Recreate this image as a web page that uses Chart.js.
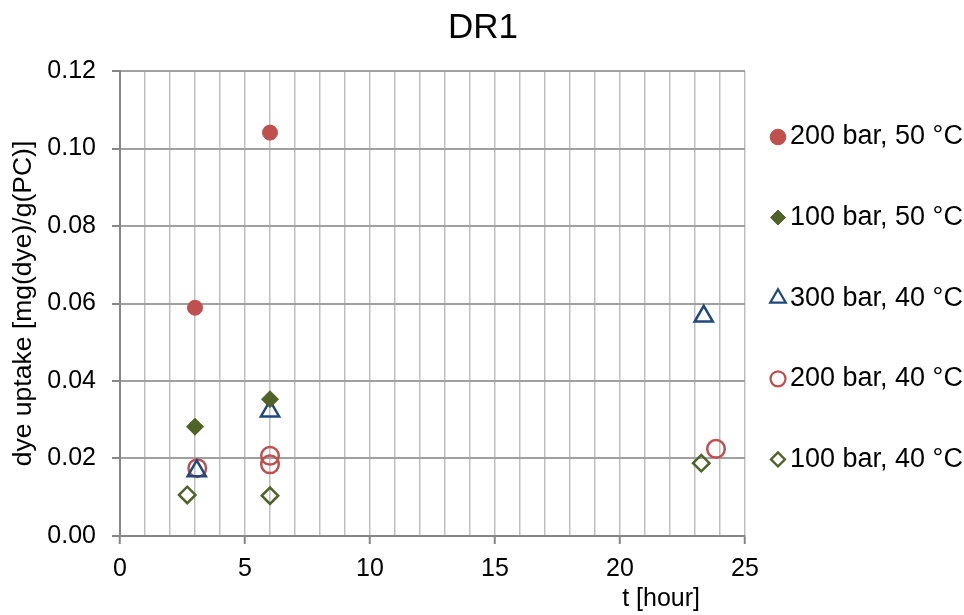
<!DOCTYPE html>
<html>
<head>
<meta charset="utf-8">
<title>DR1</title>
<script src="https://cdn.jsdelivr.net/npm/chart.js@4/dist/chart.umd.min.js"></script>
<style>
    html, body { margin: 0; padding: 0; background: #fff; }
    #wrap { width: 964px; height: 615px; }
</style>
</head>
<body>
<div id="wrap"><canvas id="chart" width="964" height="615"></canvas></div>
<script>
// series: dye uptake vs. time for each pressure / temperature
const seriesNames = ['200 bar, 50 °C', '100 bar, 50 °C', '300 bar, 40 °C', '200 bar, 40 °C', '100 bar, 40 °C'];

const t200b50 = [3.0, 6.0];
const u200b50 = [0.0589, 0.1041];

const t100b50 = [3.0, 6.0];
const u100b50 = [0.0282, 0.0353];

const t300b40 = [3.07, 6.0, 23.35];
const u300b40 = [0.0168, 0.0322, 0.0567];

const t200b40 = [3.09, 6.0, 6.0, 23.84];
const u200b40 = [0.0175, 0.0207, 0.0185, 0.0225];

const t100b40 = [2.69, 6.0, 23.25];
const u100b40 = [0.0106, 0.0104, 0.0188];

const xTicks = [0, 5, 10, 15, 20, 25];
const yTicks = [0.00, 0.02, 0.04, 0.06, 0.08, 0.10, 0.12];

const red = '#C0504D';
const green = '#4F6228';
const blue = '#1F497D';
const font = "'Liberation Sans', Arial, sans-serif";

function points(xs, ys) {
    return xs.map((x, i) => ({ x: x, y: ys[i] }));
}

const datasets = [
    { label: seriesNames[0], data: points(t200b50, u200b50), pointStyle: 'circle',
      pointRadius: 7.5, pointBorderWidth: 1, borderColor: red, backgroundColor: red },
    { label: seriesNames[1], data: points(t100b50, u100b50), pointStyle: 'rectRot',
      pointRadius: 8.5, pointBorderWidth: 1, borderColor: green, backgroundColor: green },
    { label: seriesNames[2], data: points(t300b40, u300b40), pointStyle: 'triangle',
      pointRadius: 10.5, pointBorderWidth: 2.5, borderColor: blue, backgroundColor: 'rgba(0,0,0,0)' },
    { label: seriesNames[3], data: points(t200b40, u200b40), pointStyle: 'circle',
      pointRadius: 8.8, pointBorderWidth: 2.5, borderColor: red, backgroundColor: 'rgba(0,0,0,0)' },
    { label: seriesNames[4], data: points(t100b40, u100b40), pointStyle: 'rectRot',
      pointRadius: 8.2, pointBorderWidth: 2.5, borderColor: green, backgroundColor: 'rgba(0,0,0,0)' },
];
datasets.forEach(ds => { ds.pointHoverRadius = ds.pointRadius; ds.showLine = false; });

// legend markers are a bit smaller than the plotted ones
const legendRadius = [7.8, 7.5, 9, 7.5, 7];
const legendBorder = [1, 1, 2.2, 2.2, 2.2];

const decorations = {
    id: 'decorations',
    afterDraw(chart) {
        const ctx = chart.ctx;
        ctx.save();

        // title, centred over plot + legend block
        ctx.fillStyle = '#000';
        ctx.font = '35px ' + font;
        ctx.textAlign = 'center';
        ctx.textBaseline = 'middle';
        ctx.fillText('DR1', 483, 28);

        chart.data.datasets.forEach((ds, i) => {
            const y = 137 + i * 80.6;
            ctx.fillStyle = ds.backgroundColor;
            ctx.strokeStyle = ds.borderColor;
            ctx.lineWidth = legendBorder[i];
            Chart.helpers.drawPoint(ctx, {
                pointStyle: ds.pointStyle, rotation: 0,
                radius: legendRadius[i], borderWidth: legendBorder[i]
            }, 778, y);
            ctx.fillStyle = '#000';
            ctx.font = '27px ' + font;
            ctx.textAlign = 'left';
            ctx.textBaseline = 'middle';
            ctx.fillText(ds.label, 790, y);
        });

        // x axis caption sits under the last tick labels
        ctx.font = '25px ' + font;
        ctx.textAlign = 'right';
        ctx.textBaseline = 'alphabetic';
        ctx.fillStyle = '#000';
        ctx.fillText('t [hour]', 700, 606);
        ctx.restore();
    }
};

Chart.defaults.font.family = font;
Chart.defaults.color = '#000';

new Chart(document.getElementById('chart'), {
    type: 'scatter',
    data: { datasets: datasets },
    plugins: [decorations],
    options: {
        responsive: false,
        animation: false,
        devicePixelRatio: 1,
        layout: { padding: { left: 0, right: 219, top: 71, bottom: 0 } },
        plugins: {
            legend: { display: false },
            tooltip: { enabled: false },
            title: { display: false }
        },
        scales: {
            x: {
                type: 'linear',
                min: 0,
                max: 25,
                afterFit(scale) { scale.height = 79; },
                afterBuildTicks(scale) {
                    const ticks = [];
                    for (let v = 0; v <= 25; v++) ticks.push({ value: v });
                    scale.ticks = ticks;
                },
                ticks: {
                    autoSkip: false,
                    maxRotation: 0,
                    padding: 10,
                    font: { size: 25 },
                    callback: (v) => xTicks.includes(v) ? String(v) : ''
                },
                grid: {
                    color: '#BFBFBF',
                    lineWidth: 1.5,
                    tickLength: 8,
                    tickColor: (c) => xTicks.includes(c.tick.value) ? '#868686' : 'rgba(0,0,0,0)',
                    tickWidth: 2
                },
                border: { color: '#868686', width: 2 }
            },
            y: {
                type: 'linear',
                min: 0,
                max: 0.12,
                afterFit(scale) { scale.width = 120; },
                afterBuildTicks(scale) {
                    scale.ticks = yTicks.map(v => ({ value: v }));
                },
                ticks: {
                    padding: 16,
                    font: { size: 25 },
                    callback: (v) => v.toFixed(2)
                },
                grid: {
                    color: '#A0A0A0',
                    lineWidth: 2,
                    tickLength: 8,
                    tickColor: '#868686',
                    tickWidth: 2
                },
                border: { color: '#868686', width: 2 },
                title: {
                    display: true,
                    text: 'dye uptake [mg(dye)/g(PC)]',
                    color: '#000',
                    font: { size: 26.5, lineHeight: 1.2 },
                    padding: { top: 8, bottom: 0 }
                }
            }
        }
    }
});
</script>
</body>
</html>
